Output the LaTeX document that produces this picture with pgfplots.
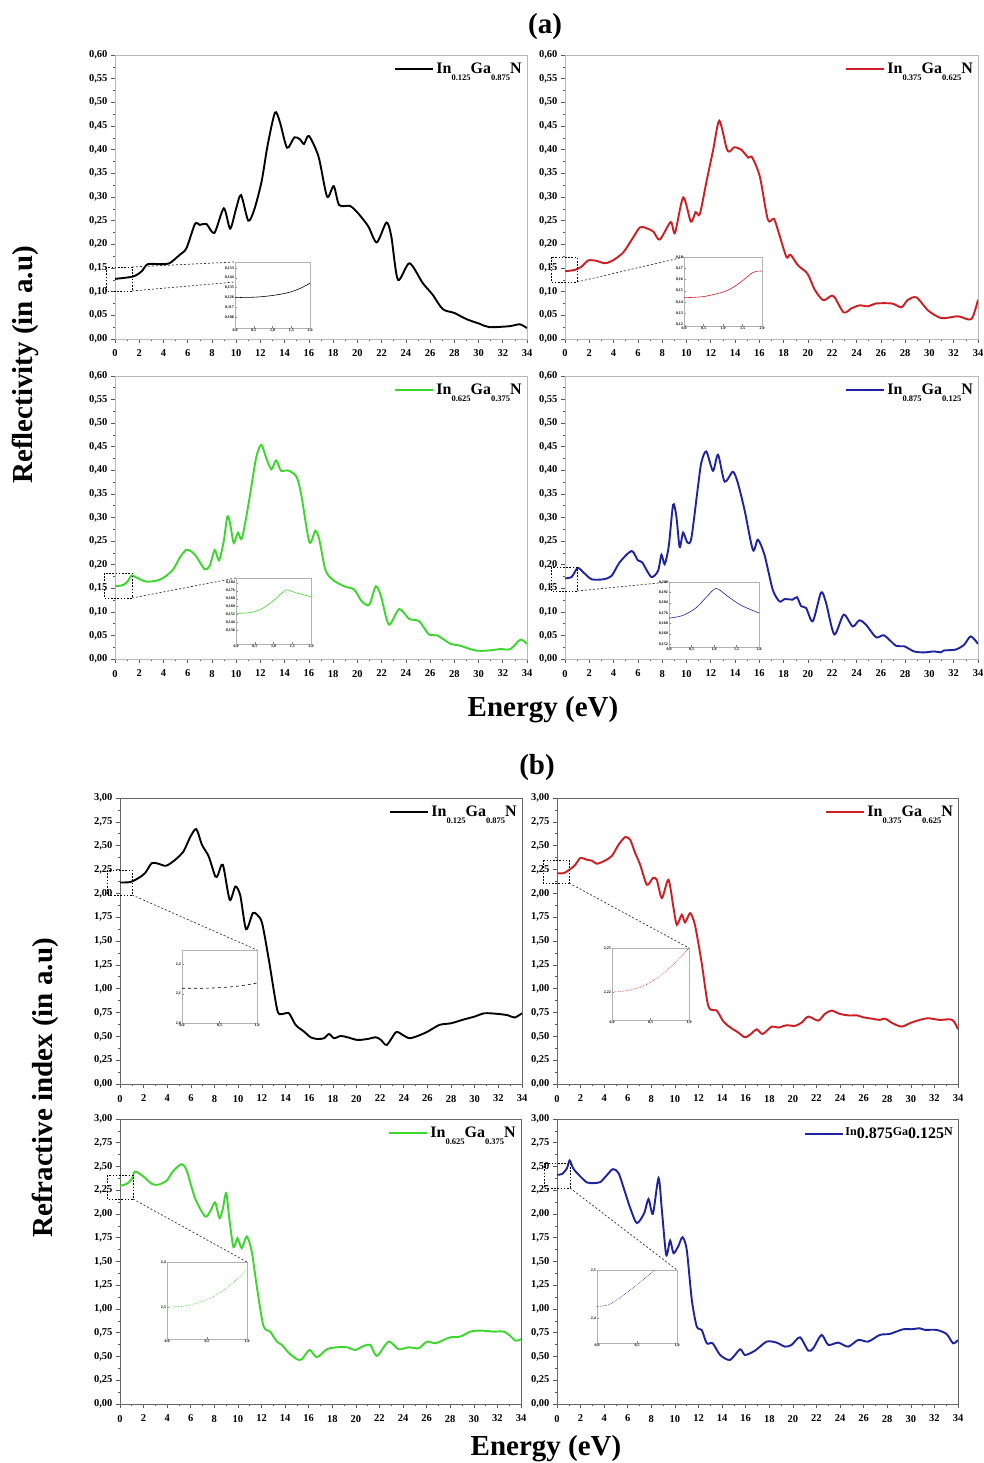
\documentclass[border=0pt]{standalone}
\usepackage{pgfplots}
\pgfplotsset{compat=1.18}
\usepackage{fontspec}
\setmainfont{Liberation Serif}
\definecolor{cred}{RGB}{205,30,35}
\definecolor{cgreen}{RGB}{60,215,45}
\definecolor{cblue}{RGB}{30,35,160}
\newcommand{\sub}[1]{\raisebox{-0.4em}{\fontsize{8.5}{8.5}\selectfont\bfseries #1}}
\newcommand{\comp}[2]{In\sub{#1}Ga\sub{#2}N}
\newcommand{\sml}[1]{\raisebox{3.5pt}{\fontsize{12}{12}\selectfont #1}}
\pgfplotsset{
 main/.style={scale only axis, anchor=south west, xmin=0, xmax=34, xtick={0,2,...,34}, minor x tick num=1,
  minor y tick num=1, tick align=outside, tick pos=left, major tick length=4pt, minor tick length=2.5pt,
  axis line style={gray!55, line width=0.7pt}, tick style={black!65, line width=0.6pt},
  tick label style={font=\fontsize{10.5}{11}\selectfont\bfseries},
  /pgf/number format/assume math mode=true,
  yticklabel style={/pgf/number format/.cd, fixed, fixed zerofill, precision=2, use comma},
  xticklabel style={yshift=-3.5pt},
  scaled y ticks=false,
  legend style={at={(1,1)}, anchor=north east, draw=none, fill=none, inner sep=0pt, xshift=-3pt, yshift=-6pt,
   font=\fontsize{16}{16}\selectfont\bfseries},
  legend image code/.code={\draw[#1] (0pt,0pt) -- (38pt,0pt);},
  every axis plot/.append style={line width=1.9pt, smooth, tension=0.45}},
 refl/.style={main, ymin=0, ymax=0.6, ytick={0,0.05,0.1,0.15,0.2,0.25,0.3,0.35,0.4,0.45,0.5,0.55,0.6}},
 refr/.style={main, ymin=0, ymax=3, ytick={0,0.25,0.5,0.75,1,1.25,1.5,1.75,2,2.25,2.5,2.75,3},
  axis line style={black!60, line width=0.7pt}},
 inset/.style={scale only axis, anchor=south west, tick align=inside, tick pos=left,
  axis line style={gray!60, line width=0.4pt}, tick style={gray, line width=0.3pt},
  major tick length=1.5pt, tick label style={font=\fontsize{4}{4}\selectfont\bfseries, inner sep=1pt},
  /pgf/number format/assume math mode=true, scaled ticks=false,
  xticklabel style={/pgf/number format/.cd, fixed, fixed zerofill, precision=1, use comma},
  axis background/.style={fill=white},
  every axis plot/.append style={line width=0.6pt, smooth}},
 yp/.style={yticklabel style={/pgf/number format/.cd, fixed, fixed zerofill, precision=#1, use comma}}
}
\tikzset{dotbox/.style={black, line width=0.8pt, dash pattern=on 1.6pt off 1.6pt},
 conn/.style={black!80, line width=0.7pt, dash pattern=on 2pt off 2pt}}
\begin{document}
\begin{tikzpicture}
\useasboundingbox (0,0) rectangle (983pt,1463pt);
\fill[white] (0,0) rectangle (983pt,1463pt);
% ---------------- (a) ----------------
\begin{axis}[refl, at={(115pt,1124pt)}, width=412pt, height=284pt]
\addplot[black] coordinates {(0,0.127)(1.5,0.132)(2.2,0.143)(2.7,0.158)(3.85,0.158)(4.5,0.16)(5.35,0.178)(5.9,0.192)(6.6,0.243)(7.0,0.241)(7.55,0.243)(8.2,0.224)(8.98,0.276)(9.5,0.233)(9.97,0.273)(10.4,0.304)(11.0,0.25)(11.5,0.274)(12.1,0.333)(12.6,0.41)(13.2,0.478)(13.6,0.459)(14.2,0.404)(14.8,0.426)(15.25,0.422)(15.6,0.412)(16.0,0.429)(16.8,0.385)(17.5,0.301)(18.05,0.323)(18.5,0.283)(19.4,0.281)(20.05,0.266)(20.9,0.238)(21.6,0.204)(22.4,0.246)(22.8,0.217)(23.35,0.125)(24.3,0.16)(25.4,0.118)(26.2,0.094)(27.05,0.063)(28.0,0.055)(29.0,0.042)(30.1,0.032)(30.9,0.025)(32.55,0.027)(33.4,0.031)(34,0.023)};
\addlegendentry{\comp{0.125}{0.875}}
\end{axis}
\begin{axis}[refl, at={(565pt,1124pt)}, width=413pt, height=284pt]
\addplot[cred] coordinates {(0,0.143)(0.82,0.146)(1.37,0.153)(1.92,0.166)(2.6,0.165)(3.3,0.160)(4.0,0.167)(4.8,0.183)(5.5,0.21)(6.17,0.236)(6.7,0.234)(7.27,0.227)(7.8,0.21)(8.7,0.247)(9.05,0.224)(9.73,0.299)(10.36,0.248)(10.75,0.268)(11.1,0.264)(11.65,0.333)(12.2,0.4)(12.7,0.461)(13.3,0.403)(13.57,0.396)(13.93,0.405)(14.5,0.4)(15.1,0.383)(15.4,0.384)(16.04,0.343)(16.7,0.252)(17.2,0.254)(17.6,0.224)(18.23,0.173)(18.56,0.178)(19.2,0.155)(19.96,0.138)(20.56,0.104)(21.25,0.082)(21.9,0.091)(22.2,0.088)(22.95,0.056)(23.6,0.065)(24.26,0.071)(24.95,0.069)(25.6,0.075)(26.9,0.075)(27.7,0.067)(28.2,0.082)(28.93,0.088)(29.9,0.06)(31.0,0.044)(32.35,0.048)(33.45,0.042)(34.0,0.083)};
\addlegendentry{\comp{0.375}{0.625}}
\end{axis}
\begin{axis}[refl, at={(115pt,804pt)}, width=412pt, height=283pt]
\addplot[cgreen] coordinates {(0,0.154)(0.69,0.157)(1.1,0.166)(1.37,0.177)(2.06,0.169)(2.6,0.164)(3.43,0.166)(4.1,0.174)(4.8,0.19)(5.35,0.215)(5.85,0.231)(6.3,0.228)(6.72,0.217)(7.4,0.19)(7.82,0.198)(8.23,0.231)(8.58,0.209)(8.97,0.249)(9.27,0.302)(9.5,0.287)(9.8,0.246)(10.15,0.268)(10.48,0.256)(11.1,0.341)(11.64,0.426)(12.07,0.454)(12.48,0.426)(12.9,0.402)(13.3,0.421)(13.7,0.399)(14.25,0.4)(14.94,0.388)(15.35,0.351)(16.04,0.248)(16.53,0.272)(16.86,0.253)(17.36,0.189)(17.96,0.168)(18.92,0.154)(19.74,0.147)(20.37,0.122)(20.98,0.115)(21.52,0.154)(21.94,0.134)(22.6,0.073)(23.45,0.106)(24.27,0.085)(25.1,0.08)(25.9,0.052)(26.6,0.05)(27.7,0.032)(28.38,0.029)(29.75,0.018)(30.85,0.018)(31.8,0.021)(32.63,0.021)(33.45,0.041)(34,0.032)};
\addlegendentry{\comp{0.625}{0.375}}
\end{axis}
\begin{axis}[refl, at={(565pt,804pt)}, width=413pt, height=283pt]
\addplot[cblue] coordinates {(0,0.171)(0.55,0.174)(1.04,0.193)(1.5,0.184)(2.19,0.169)(3.15,0.169)(3.83,0.176)(4.5,0.205)(5.48,0.229)(6.0,0.209)(6.35,0.205)(7.1,0.174)(7.66,0.187)(7.94,0.221)(8.2,0.201)(8.54,0.239)(8.9,0.327)(9.17,0.302)(9.44,0.237)(9.72,0.268)(10.07,0.247)(10.4,0.256)(10.95,0.366)(11.22,0.416)(11.63,0.44)(12.18,0.399)(12.6,0.433)(13.14,0.376)(13.82,0.397)(14.23,0.373)(14.78,0.316)(15.47,0.231)(15.88,0.253)(16.42,0.221)(17.1,0.147)(17.66,0.122)(18.07,0.127)(18.75,0.126)(19.1,0.131)(19.44,0.112)(19.85,0.108)(20.4,0.08)(21.08,0.141)(21.49,0.119)(22.17,0.052)(22.94,0.094)(23.68,0.069)(24.23,0.082)(24.77,0.073)(25.6,0.046)(26.28,0.05)(27.24,0.028)(27.92,0.027)(28.74,0.016)(29.56,0.014)(30.39,0.016)(30.93,0.014)(31.2,0.018)(32.17,0.02)(32.85,0.03)(33.4,0.048)(34,0.032)};
\addlegendentry{\comp{0.875}{0.125}}
\end{axis}
% insets (a)
\begin{axis}[inset, at={(235pt,1135pt)}, width=75pt, height=66pt, xmin=0, xmax=2, ymin=0.098, ymax=0.1585, xtick={0,0.5,1,1.5,2}, ytick={0.108,0.117,0.126,0.135,0.144,0.153}, yp=3]
\addplot[black] coordinates {(0,0.126)(0.25,0.126)(0.5,0.1262)(0.75,0.1268)(1.0,0.1278)(1.25,0.1292)(1.5,0.1312)(1.75,0.1345)(2.0,0.139)};
\end{axis}
\begin{axis}[inset, at={(684pt,1137pt)}, width=78pt, height=69pt, xmin=0, xmax=2, ymin=0.119, ymax=0.18, xtick={0,0.5,1,1.5,2}, ytick={0.12,0.13,0.14,0.15,0.16,0.17,0.18}, yp=2]
\addplot[cred] coordinates {(0,0.144)(0.5,0.145)(1.0,0.149)(1.25,0.153)(1.5,0.159)(1.75,0.166)(1.9,0.1675)(2.0,0.1675)};
\end{axis}
\begin{axis}[inset, at={(236pt,819pt)}, width=75pt, height=66pt, xmin=0, xmax=2, ymin=0.122, ymax=0.189, xtick={0,0.5,1,1.5,2}, ytick={0.136,0.144,0.152,0.16,0.168,0.176,0.184}, yp=3]
\addplot[cgreen] coordinates {(0,0.153)(0.4,0.154)(0.7,0.158)(1.0,0.166)(1.2,0.173)(1.35,0.177)(1.6,0.174)(2.0,0.170)};
\end{axis}
\begin{axis}[inset, at={(669pt,816pt)}, width=90pt, height=65pt, xmin=0, xmax=2, ymin=0.1497, ymax=0.2, xtick={0,0.5,1,1.5,2}, ytick={0.152,0.16,0.168,0.176,0.184,0.192,0.2}, yp=3]
\addplot[cblue] coordinates {(0,0.172)(0.3,0.174)(0.6,0.180)(0.85,0.189)(1.05,0.195)(1.3,0.189)(1.6,0.182)(2.0,0.176)};
\end{axis}
\draw[dotbox] (106pt,1196pt) rectangle (132pt,1172pt);
\draw[conn] (132pt,1196pt) -- (235pt,1201pt);
\draw[conn] (132pt,1172pt) -- (235pt,1181pt);
\draw[dotbox] (551pt,1206pt) rectangle (577pt,1181pt);
\draw[conn] (577pt,1181pt) -- (684pt,1206pt);
\draw[dotbox] (104pt,890pt) rectangle (132pt,865pt);
\draw[conn] (132pt,865pt) -- (236pt,885pt);
\draw[dotbox] (551pt,896pt) rectangle (577pt,872pt);
\draw[conn] (577pt,872pt) -- (669pt,881pt);
% ---------------- (b) ----------------
\begin{axis}[refr, at={(120pt,379pt)}, width=402pt, height=286pt]
\addplot[black] coordinates {(0,2.114)(0.85,2.118)(1.56,2.16)(2.12,2.212)(2.69,2.317)(3.25,2.31)(3.9,2.289)(4.67,2.352)(5.37,2.44)(5.94,2.59)(6.45,2.674)(6.93,2.51)(7.5,2.387)(8.06,2.177)(8.29,2.195)(8.7,2.3)(9.28,1.932)(9.76,2.072)(10.18,1.974)(10.66,1.624)(11.23,1.792)(11.6,1.775)(12.02,1.687)(12.59,1.302)(13.3,0.777)(13.72,0.735)(14.29,0.742)(14.85,0.62)(15.56,0.55)(16.12,0.49)(16.69,0.472)(17.26,0.48)(17.68,0.525)(18.1,0.48)(18.67,0.504)(19.24,0.49)(20.08,0.462)(20.93,0.472)(21.64,0.49)(22.07,0.462)(22.57,0.41)(23.34,0.543)(23.9,0.515)(24.47,0.48)(25.18,0.504)(26.03,0.55)(27.02,0.62)(28.0,0.637)(29.14,0.679)(29.99,0.707)(30.83,0.742)(31.97,0.735)(32.81,0.721)(33.38,0.697)(34,0.742)};
\addlegendentry{\comp{0.125}{0.875}}
\end{axis}
\begin{axis}[refr, at={(557pt,379pt)}, width=401pt, height=286pt]
\addplot[cred] coordinates {(0,2.212)(0.56,2.212)(1.13,2.254)(1.55,2.3)(1.98,2.37)(2.54,2.352)(2.96,2.342)(3.39,2.31)(4.09,2.345)(4.66,2.394)(5.22,2.51)(5.78,2.59)(6.2,2.562)(6.63,2.422)(7.05,2.3)(7.62,2.09)(8.13,2.16)(8.46,2.142)(8.89,1.95)(9.45,2.142)(9.88,1.845)(10.16,1.67)(10.58,1.775)(10.86,1.694)(11.29,1.792)(11.71,1.66)(12.27,1.267)(12.84,0.812)(13.54,0.77)(14.11,0.655)(14.67,0.595)(15.38,0.539)(15.94,0.49)(16.51,0.532)(16.93,0.574)(17.44,0.525)(18.2,0.602)(18.76,0.592)(19.47,0.616)(20.17,0.609)(20.74,0.644)(21.3,0.707)(22.15,0.665)(22.71,0.735)(23.28,0.77)(23.98,0.735)(24.83,0.718)(25.4,0.721)(25.96,0.7)(26.81,0.683)(27.37,0.672)(27.8,0.686)(28.36,0.644)(29.2,0.602)(30.05,0.644)(30.76,0.672)(31.46,0.69)(32.45,0.672)(33.3,0.679)(33.66,0.655)(34,0.574)};
\addlegendentry{\comp{0.375}{0.625}}
\end{axis}
\begin{axis}[refr, at={(120pt,59pt)}, width=401pt, height=285pt]
\addplot[cgreen] coordinates {(0,2.297)(0.57,2.318)(0.99,2.367)(1.27,2.448)(1.98,2.395)(2.69,2.318)(3.25,2.308)(3.96,2.353)(4.53,2.455)(5.23,2.525)(5.66,2.455)(6.36,2.167)(7.21,1.974)(7.64,2.027)(8.06,2.122)(8.43,1.956)(8.71,2.05)(9.0,2.22)(9.28,1.939)(9.62,1.651)(9.96,1.746)(10.32,1.64)(10.75,1.763)(11.17,1.605)(11.6,1.236)(12.16,0.822)(12.73,0.762)(13.3,0.657)(13.72,0.622)(14.29,0.541)(15.0,0.471)(15.42,0.471)(16.07,0.569)(16.69,0.492)(17.54,0.576)(18.39,0.597)(19.24,0.597)(19.94,0.569)(20.65,0.611)(21.22,0.622)(21.78,0.506)(22.77,0.657)(23.62,0.576)(24.47,0.597)(25.32,0.587)(26.03,0.657)(26.73,0.639)(27.44,0.674)(28.0,0.702)(28.86,0.71)(29.7,0.762)(30.55,0.773)(31.68,0.762)(32.53,0.762)(33.1,0.716)(33.52,0.667)(34,0.681)};
\addlegendentry{\comp{0.625}{0.375}}
\end{axis}
\begin{axis}[refr, at={(557pt,59pt)}, width=401pt, height=285pt]
\addplot[cblue] coordinates {(0,2.413)(0.42,2.42)(0.85,2.483)(1.07,2.564)(1.41,2.473)(1.98,2.395)(2.54,2.332)(3.1,2.325)(3.67,2.336)(4.18,2.402)(4.74,2.473)(5.22,2.43)(5.7,2.255)(6.21,2.062)(6.77,1.904)(7.39,2.009)(7.76,2.157)(8.13,2.002)(8.61,2.378)(8.89,2.044)(9.26,1.57)(9.59,1.721)(9.88,1.588)(10.3,1.665)(10.64,1.756)(11.0,1.623)(11.43,1.096)(11.85,0.815)(12.27,0.78)(12.7,0.639)(13.2,0.639)(13.83,0.516)(14.67,0.464)(15.52,0.576)(15.94,0.516)(16.79,0.562)(17.78,0.657)(18.62,0.646)(19.33,0.604)(19.89,0.622)(20.6,0.702)(21.3,0.562)(21.73,0.587)(22.43,0.727)(23.0,0.622)(23.84,0.646)(24.69,0.604)(25.54,0.674)(26.38,0.657)(27.37,0.727)(28.22,0.738)(29.35,0.787)(30.05,0.787)(30.76,0.797)(31.18,0.78)(32.17,0.78)(33.02,0.738)(33.58,0.639)(34,0.674)};
\addlegendentry{\sml{In}0.875\sml{Ga}0.125\sml{N}}
\end{axis}
% insets (b)
\begin{axis}[inset, at={(182pt,440pt)}, width=75pt, height=73pt, xmin=0, xmax=1, ymin=2.0, ymax=2.25, xtick={0,0.5,1}, ytick={2.0,2.1,2.2}, yp=1]
\addplot[black, dashed] coordinates {(0,2.119)(0.3,2.119)(0.5,2.121)(0.7,2.125)(0.85,2.13)(1.0,2.137)};
\end{axis}
\begin{axis}[inset, at={(612pt,443pt)}, width=77pt, height=72pt, xmin=0, xmax=1, ymin=2.201, ymax=2.25, xtick={0,0.5,1}, ytick={2.22,2.25}, yp=2]
\addplot[cred, densely dotted] coordinates {(0,2.220)(0.2,2.221)(0.4,2.224)(0.6,2.230)(0.8,2.239)(1.0,2.250)};
\end{axis}
\begin{axis}[inset, at={(167pt,124pt)}, width=80pt, height=77pt, xmin=0, xmax=1, ymin=2.229, ymax=2.4, xtick={0,0.5,1}, ytick={2.3,2.4}, yp=1]
\addplot[cgreen, densely dotted] coordinates {(0,2.30)(0.2,2.302)(0.4,2.31)(0.6,2.325)(0.8,2.35)(1.0,2.383)};
\end{axis}
\begin{axis}[inset, at={(597pt,120pt)}, width=80pt, height=73pt, xmin=0, xmax=1, ymin=2.348, ymax=2.5, xtick={0,0.5,1}, ytick={2.4,2.5}, yp=1]
\addplot[cblue, densely dotted] coordinates {(0,2.424)(0.15,2.428)(0.3,2.444)(0.5,2.469)(0.6,2.483)(0.72,2.5)};
\end{axis}
\draw[dotbox] (107pt,593pt) rectangle (132pt,568pt);
\draw[conn] (132pt,568pt) -- (257pt,513pt);
\draw[dotbox] (543pt,603pt) rectangle (569pt,580pt);
\draw[conn] (569pt,580pt) -- (689pt,515pt);
\draw[dotbox] (107pt,288pt) rectangle (133pt,264pt);
\draw[conn] (133pt,264pt) -- (247pt,201pt);
\draw[dotbox] (544pt,300pt) rectangle (570pt,275pt);
\draw[conn] (570pt,275pt) -- (677pt,193pt);
% titles
\begin{scope}[every node/.style={font=\fontsize{29}{32}\selectfont\bfseries}]
\node at (545pt,1436pt) {(a)};
\node at (543pt,753pt) {Energy (eV)};
\node[rotate=90] at (25pt,1098pt) {Reflectivity (in a.u)};
\node at (537pt,695pt) {(b)};
\node at (546pt,14pt) {Energy (eV)};
\node[rotate=90] at (45pt,375pt) {Refractive index (in a.u)};
\end{scope}
\end{tikzpicture}
\end{document}
